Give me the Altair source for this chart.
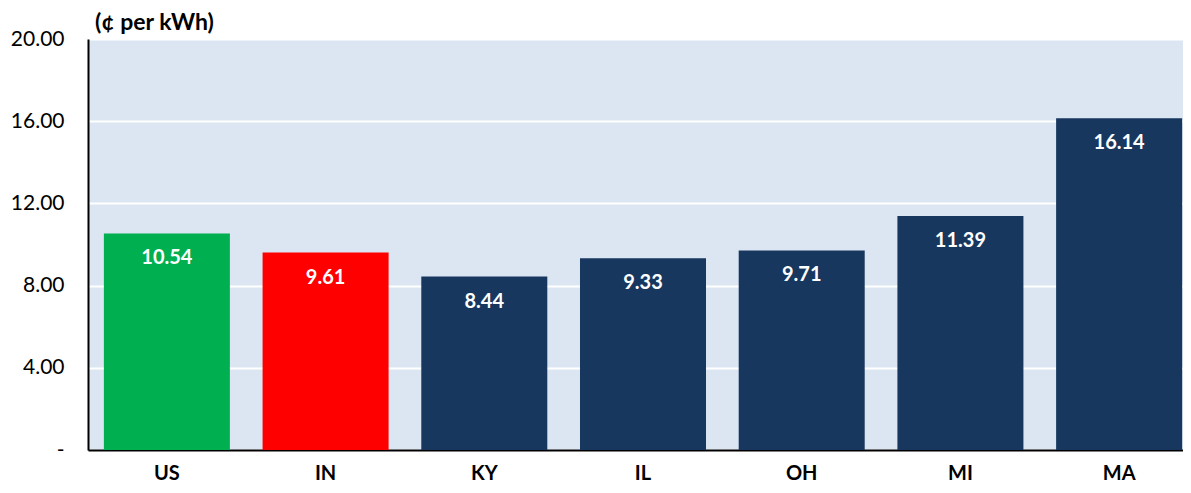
import altair as alt
import pandas as pd

states = ["US", "IN", "KY", "IL", "OH", "MI", "MA"]
prices = [10.54, 9.61, 8.44, 9.33, 9.71, 11.39, 16.14]
colors = ["#00b050", "#ff0000", "#17375e", "#17375e", "#17375e", "#17375e", "#17375e"]
y_ticks = [0, 4, 8, 12, 16, 20]

df = pd.DataFrame({"state": states, "price": prices, "color": colors})
df["label"] = df["price"].map(lambda v: f"{v:.2f}")

FONT = "Lato"

x = alt.X("state:N", sort=states, title=None,
          scale=alt.Scale(paddingInner=0.206, paddingOuter=0.1, range=[0, 1110]),
          axis=alt.Axis(labelAngle=0, labelFont=FONT, labelFontSize=20, labelFontWeight="bold",
                        labelColor="#000000", ticks=False, labelPadding=13,
                        domainColor="#000000", domainWidth=2))
y = alt.Y("price:Q", title=None,
          scale=alt.Scale(domain=[0, 20], nice=False),
          axis=alt.Axis(values=y_ticks, ticks=False, labelPadding=24,
                        labelExpr="datum.value == 0 ? '-' : format(datum.value, '.2f')",
                        labelFont=FONT, labelFontSize=21, labelColor="#000000",
                        gridColor="#ffffff", gridWidth=2,
                        domainColor="#000000", domainWidth=2))

bars = alt.Chart(df).mark_bar().encode(
    x=x, y=y, color=alt.Color("color:N", scale=None)
)
text = alt.Chart(df).mark_text(baseline="middle", dy=25, font=FONT, fontSize=20,
                               fontWeight="bold", color="white").encode(
    x=alt.X("state:N", sort=states), y="price:Q", text="label:N"
)

chart = (bars + text).properties(
    width=1095, height=411,
    autosize=alt.AutoSizeParams(type="none"),
    padding={"left": 80, "top": 31, "right": 0, "bottom": 35},
    title=alt.TitleParams("(¢ per kWh)", anchor="start", frame="group", font=FONT, fontSize=23,
                          fontWeight="bold", color="#000000", dx=7, offset=-7),
).configure_view(fill="#dce6f2", stroke=None)

chart.save("out.html", embed_options={"renderer": "svg", "actions": False})
